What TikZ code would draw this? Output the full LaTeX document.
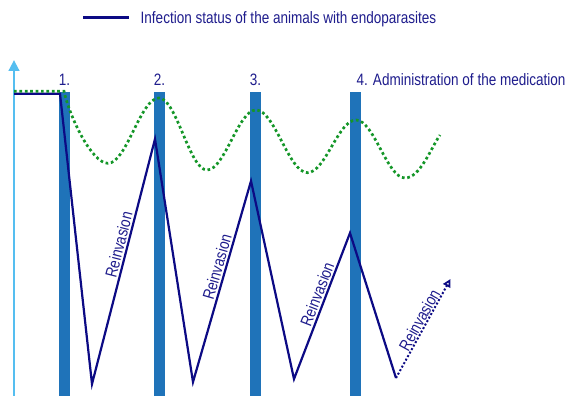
\documentclass[tikz,border=0pt]{standalone}
\usepackage{fontspec}
\setmainfont{Liberation Sans}
\usepackage{graphicx}
\usetikzlibrary{arrows.meta}
\definecolor{navyline}{RGB}{12,10,132}
\definecolor{navytext}{RGB}{30,28,140}
\definecolor{barblue}{RGB}{31,115,185}
\definecolor{axisblue}{RGB}{85,190,240}
\definecolor{dotgreen}{RGB}{20,150,40}
\newcommand{\nar}[1]{\scalebox{0.82}[1]{#1}}
\begin{document}
\begin{tikzpicture}[x=1pt,y=-1pt,
  lbl/.style={text=navytext, font=\fontsize{16.5}{18}\selectfont, inner sep=0pt},
  barbox/.style={fill=barblue, draw=none, minimum width=10.4pt, minimum height=305pt, anchor=north, inner sep=0pt},
  infect/.style={draw=navyline, line width=2.2pt, line join=miter},
  reinv/.style={lbl, sloped, above, pos=0.56, inner sep=1.6pt},
  greendots/.style={draw=dotgreen, line width=2.7pt, dash pattern=on 2.7pt off 2.7pt},
  axisline/.style={draw=axisblue, line width=2.7pt, -{Triangle[length=11pt,width=10.5pt]}}
]
\useasboundingbox (0,0) rectangle (565,396);

% bars
\node[barbox] (b1) at (64.4,91.3) {};
\node[barbox] (b2) at (159.4,91.3) {};
\node[barbox] (b3) at (255.5,91.3) {};
\node[barbox] (b4) at (355.5,91.3) {};

% axis
\coordinate (a0) at (14,396);
\coordinate (a1) at (14,60);
\draw[axisline] (a0) -- (a1);

% numbers
\node[lbl, anchor=base] (n1) at (64.4,85) {\nar{1.}};
\node[lbl, anchor=base] (n2) at (159.4,85) {\nar{2.}};
\node[lbl, anchor=base] (n3) at (255.5,85) {\nar{3.}};
\node[lbl, anchor=base west] (n4) at (356.5,85.5) {\nar{4. Administration of the medication}};

% legend
\coordinate (lg0) at (83,17.5);
\coordinate (lg1) at (129,17.5);
\draw[infect, line width=3pt] (lg0) -- (lg1);
\node[lbl, anchor=base west] (lgt) at (140.5,24) {\nar{Infection status of the animals with endoparasites}};

% infection status
\coordinate (z0) at (14,93.7);
\coordinate (z1) at (60,93.7);
\coordinate (z2) at (92,384);
\coordinate (z3) at (155,139);
\coordinate (z4) at (193,382);
\coordinate (z5) at (251,181);
\coordinate (z6) at (294,379);
\coordinate (z7) at (350,233);
\coordinate (z8) at (396,378);
\coordinate (z9) at (450.5,279);
\draw[infect] (z0) -- (z1) -- (z2)
  -- node[reinv] {\nar{Reinvasion}} (z3) -- (z4)
  -- node[reinv] {\nar{Reinvasion}} (z5) -- (z6)
  -- node[reinv] {\nar{Reinvasion}} (z7) -- (z8);
\draw[infect, line width=2pt, dash pattern=on 2pt off 2pt,
  -{Triangle[open,length=8pt,width=8pt,line width=1.8pt]}]
  (z8) -- node[reinv, pos=0.55, inner sep=0.5pt] {\nar{Reinvasion}} (z9);

% medication level (green dotted)
\coordinate (g0) at (14,91.3);
\coordinate (g1) at (64,91.3);
\coordinate (t1) at (108,163.3);
\coordinate (p1) at (159,98);
\coordinate (t2) at (207,170);
\coordinate (p2) at (256,110);
\coordinate (t3) at (307.5,172.7);
\coordinate (p3) at (356,120);
\coordinate (t4) at (405,178);
\coordinate (g9) at (440,135);
\draw[greendots] (g0) -- (g1)
  .. controls (70,118) and (92,163.3) .. (t1)
  .. controls +(18.6,0) and +(-18.6,0) .. (p1)
  .. controls +(17.5,0) and +(-17.5,0) .. (t2)
  .. controls +(17.8,0) and +(-17.8,0) .. (p2)
  .. controls +(18.7,0) and +(-18.7,0) .. (t3)
  .. controls +(17.7,0) and +(-17.7,0) .. (p3)
  .. controls +(17.8,0) and +(-17.8,0) .. (t4)
  .. controls +(15,0) and +(-9,13) .. (g9);
\end{tikzpicture}
\end{document}
